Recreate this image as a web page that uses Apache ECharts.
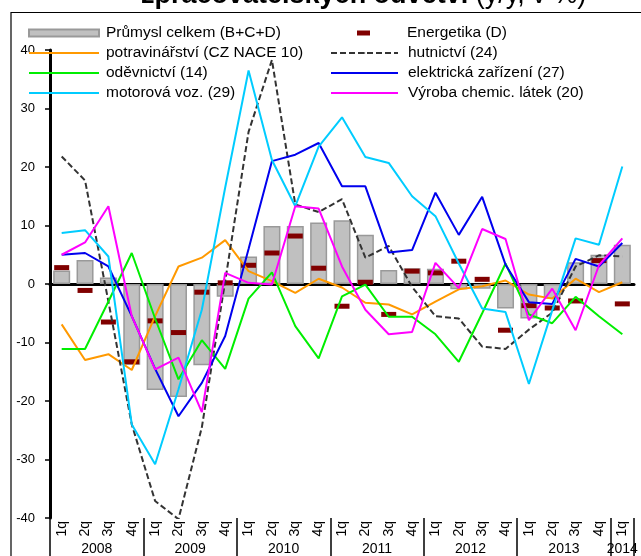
<!DOCTYPE html>
<html>
<head>
<meta charset="utf-8">
<script src="https://cdn.jsdelivr.net/npm/echarts@6/dist/echarts.min.js"></script>
<style>
  html, body { margin: 0; padding: 0; background: #fff; }
  #chart { width: 641px; height: 556px; }
</style>
</head>
<body>
<div id="chart"></div>
<script>
// quarters 2008Q1 .. 2014Q1
const quarters = ['1q','2q','3q','4q','1q','2q','3q','4q','1q','2q','3q','4q','1q','2q','3q','4q',
  '1q','2q','3q','4q','1q','2q','3q','4q','1q']
const years = ['2008','2009','2010','2011','2012','2013','2014']
const yTicks = { min: -40, max: 40, step: 10 }

// y/y %
const prumysl = [2.3, 4.1, 1.1, -13.8, -18.1, -19.3, -13.9, -2.2, 4.7, 9.9, 9.9, 10.5, 10.9, 8.4, 2.4, 2.7,
  2.6, -0.9, -0.8, -4.2, -5.9, -2.5, 3.7, 5.0, 6.7]
const energetika = [2.8, -1.1, -6.5, -13.3, -6.3, -8.3, -1.4, 0.2, 3.2, 5.3, 8.2, 2.7, -3.8, 0.3, -5.2, 2.2,
  1.9, 3.9, 0.8, -7.9, -3.7, -4.1, -2.9, 4.0, -3.4]
const potraviny = [-6.9, -13.0, -12.0, -14.7, -5.5, 3.0, 4.5, 7.5, 2.2, 0.5, -1.5, 0.9, -0.6, -3.2, -3.5, -5.2,
  -3.0, -0.9, -0.4, 0.6, -1.8, -2.5, 0.9, -1.4, 0.3]
const hutnictvi = [21.8, 17.7, -3.0, -24.0, -37.1, -40.2, -24.5, 0.5, 26.0, 38.3, 13.6, 12.3, 14.5, 4.5, 6.5, -0.5,
  -5.5, -5.9, -10.7, -11.1, -7.8, -4.9, 3.0, 4.9, 4.7]
const odevnictvi = [-11.1, -11.1, -3.0, 5.3, -5.9, -16.3, -9.6, -14.5, -2.5, 2.0, -7.2, -12.7, -2.1, -0.1, -5.6, -5.6,
  -8.6, -13.3, -5.0, 3.5, -5.2, -6.7, -2.2, -5.5, -8.6]
const elektro = [5.0, 5.3, 3.0, -5.5, -14.5, -22.6, -16.9, -8.9, 6.0, 21.0, 22.1, 24.1, 16.7, 16.7, 5.4, 5.8,
  15.6, 8.4, 14.9, 3.3, -3.1, -3.4, 4.3, 3.0, 7.0]
const motorova = [8.7, 9.2, 4.7, -24.0, -30.8, -18.0, -4.4, 16.5, 36.5, 21.2, 13.3, 23.5, 28.5, 21.7, 20.7, 15.0,
  11.6, 3.5, -4.2, -4.8, -17.1, -4.5, 7.8, 6.7, 20.1]
const chemie = [5.0, 7.1, 13.3, -5.5, -14.6, -12.6, -21.9, 1.9, 0.2, -0.1, 13.3, 12.9, 3.0, -4.4, -8.6, -8.2,
  3.6, -0.7, 9.4, 7.7, -6.2, -0.8, -7.9, 3.2, 7.8]

const FONT = 'Liberation Sans, Arial, sans-serif'

// year row: half-quarter slots so the labels sit between 2q and 3q
const yearSlots = []
for (let i = 0; i <= quarters.length * 2; i++) yearSlots.push('')
years.forEach((y, k) => {
  const q = Math.min(4, quarters.length - k * 4)
  yearSlots[k * 8 + q] = y
})

const chart = echarts.init(document.getElementById('chart'))

function line(name, data, color, dashed) {
  return {
    name, type: 'line', data,
    symbol: 'none',
    lineStyle: { color, width: 2, type: dashed ? [6, 3] : 'solid' },
    itemStyle: { color },
    z: 4
  }
}

const legendText = { color: '#000', fontSize: 15.5, fontFamily: FONT, lineHeight: 20 }

chart.setOption({
  animation: false,
  grid: { left: 50, right: 7, top: 50, bottom: 37 },
  graphic: [
    {
      type: 'rect', z: -1,
      shape: { x: 11, y: 12.5, width: 720, height: 620 },
      style: { fill: 'none', stroke: '#000', lineWidth: 1.2 }
    },
    {
      type: 'text', left: 141, top: -18,
      style: {
        text: '{b|zpracovatelských odvětví}{n| (y/y, v %)}',
        rich: {
          b: { fontSize: 27, fontWeight: 'bold', fontFamily: FONT, fill: '#000' },
          n: { fontSize: 27, fontFamily: FONT, fill: '#000' }
        }
      }
    }
  ],
  legend: [
    {
      data: [{ name: 'Průmysl celkem (B+C+D)', icon: 'rect' }],
      left: 28, top: 23, padding: 0, itemWidth: 70, itemHeight: 7,
      textStyle: Object.assign({ padding: [0, 0, 0, 2] }, legendText)
    },
    {
      data: ['potravinářství (CZ NACE 10)', 'oděvnictví (14)', 'motorová voz. (29)'],
      orient: 'vertical', left: 28, top: 43, padding: 0, itemGap: 0, itemWidth: 70, itemHeight: 2,
      textStyle: Object.assign({ padding: [0, 0, 0, 2] }, legendText)
    },
    {
      data: [{ name: 'Energetika (D)', icon: 'rect' }],
      left: 357, top: 23, padding: 0, itemWidth: 13, itemHeight: 5,
      textStyle: Object.assign({ padding: [0, 0, 0, 32] }, legendText)
    },
    {
      data: ['hutnictví (24)', 'elektrická zařízení (27)', 'Výroba chemic. látek (20)'],
      orient: 'vertical', left: 330, top: 43, padding: 0, itemGap: 0, itemWidth: 67, itemHeight: 2,
      textStyle: Object.assign({ padding: [0, 0, 0, 5] }, legendText)
    }
  ],
  xAxis: [
    {
      // zero line with small ticks
      type: 'category', data: quarters, position: 'bottom',
      axisLine: { onZero: true, lineStyle: { color: '#000', width: 3 } },
      axisTick: { inside: true, length: 4, interval: 0, lineStyle: { color: '#000', width: 1.5 } },
      axisLabel: { show: false }
    },
    {
      // quarter labels at the bottom
      type: 'category', data: quarters, position: 'bottom',
      axisLine: { show: false, onZero: false },
      axisTick: { length: 18, interval: 0, lineStyle: { color: '#000', width: 1.5 } },
      axisLabel: { interval: 0, rotate: 90, margin: 3, color: '#000', fontSize: 14, fontFamily: FONT }
    },
    {
      // year labels and separators
      type: 'category', data: yearSlots, position: 'bottom', boundaryGap: false,
      axisLine: { show: false, onZero: false },
      axisTick: {
        length: 45,
        interval: (i) => i % 8 === 0 || i === yearSlots.length - 1,
        lineStyle: { color: '#000', width: 1.5 }
      },
      axisLabel: { interval: 0, margin: 24, color: '#000', fontSize: 14, fontFamily: FONT }
    }
  ],
  yAxis: {
    type: 'value', min: yTicks.min, max: yTicks.max, interval: yTicks.step,
    axisLine: { show: true, lineStyle: { color: '#000', width: 3 } },
    axisTick: { show: true, length: 5, lineStyle: { color: '#000', width: 1.5 } },
    axisLabel: { color: '#000', fontSize: 13, fontFamily: FONT, margin: 15 },
    splitLine: { show: false }
  },
  series: [
    {
      name: 'Průmysl celkem (B+C+D)', type: 'bar', data: prumysl, barWidth: 17,
      itemStyle: { color: '#c0c0c0', borderColor: '#999999', borderWidth: 1.5 },
      z: 2
    },
    {
      name: 'Energetika (D)', type: 'scatter', data: energetika,
      symbol: 'rect', symbolSize: [15, 5],
      itemStyle: { color: '#800000', opacity: 1 },
      z: 3
    },
    line('potravinářství (CZ NACE 10)', potraviny, '#ff9900'),
    line('hutnictví (24)', hutnictvi, '#333333', true),
    line('oděvnictví (14)', odevnictvi, '#00ee00'),
    line('elektrická zařízení (27)', elektro, '#0000ee'),
    line('motorová voz. (29)', motorova, '#00ccff'),
    line('Výroba chemic. látek (20)', chemie, '#ff00ff')
  ]
})

window.addEventListener('resize', () => {
  chart.resize()
})
</script>
</body>
</html>
